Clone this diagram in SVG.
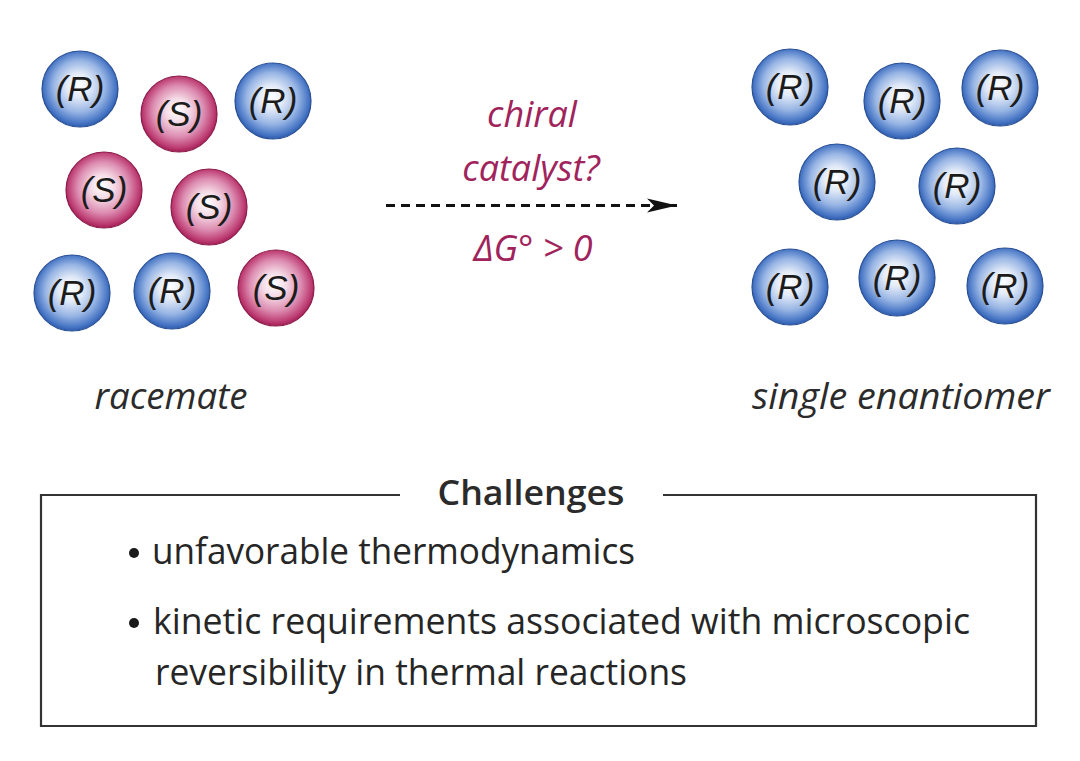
<svg xmlns="http://www.w3.org/2000/svg" width="1080" height="761" viewBox="0 0 1080 761">
<defs>
<radialGradient id="gR" cx="50%" cy="48%" r="52%" fx="47%" fy="44%">
<stop offset="0" stop-color="#ffffff"/>
<stop offset="0.3" stop-color="#e3ebf8"/>
<stop offset="0.65" stop-color="#98b5e4"/>
<stop offset="0.9" stop-color="#4a78c6"/>
<stop offset="1" stop-color="#2d5cae"/>
</radialGradient>
<radialGradient id="gS" cx="50%" cy="48%" r="52%" fx="47%" fy="44%">
<stop offset="0" stop-color="#ffffff"/>
<stop offset="0.3" stop-color="#f5dbe6"/>
<stop offset="0.65" stop-color="#dc8cb0"/>
<stop offset="0.9" stop-color="#bd3d73"/>
<stop offset="1" stop-color="#a31e56"/>
</radialGradient>
<marker id="ah" markerWidth="32" markerHeight="18" refX="30" refY="9" orient="auto" markerUnits="userSpaceOnUse">
<path d="M0,2 L30,9 L0,16 L7,9 Z" fill="#111"/>
</marker>
</defs>
<style>
.r circle{fill:url(#gR);stroke:#2a4f95;stroke-width:1.2}
.s circle{fill:url(#gS);stroke:#8c1c4a;stroke-width:1.2}
.lab{font-family:"Liberation Sans",Arial,sans-serif;font-style:italic;font-size:35px;fill:#1c1c1c;text-anchor:middle}
.cap{font-family:"Open Sans","Noto Sans",sans-serif;font-style:italic;font-size:36px;fill:#2b2b2b;text-anchor:middle}
.mag{font-family:"Open Sans","Noto Sans",sans-serif;font-style:italic;font-size:36px;fill:#a0235c;text-anchor:middle}
.body{font-family:"Open Sans","Noto Sans",sans-serif;font-size:36px;fill:#262626}
</style>
<rect width="1080" height="761" fill="#ffffff"/>

<g id="racemate">
<g id="L1" class="r"><circle cx="80" cy="89" r="38"/><text class="lab" x="80" y="101">(R)</text></g>
<g id="L2" class="s"><circle cx="179" cy="114" r="38"/><text class="lab" x="179" y="126">(S)</text></g>
<g id="L3" class="r"><circle cx="273" cy="101" r="38"/><text class="lab" x="273" y="113">(R)</text></g>
<g id="L4" class="s"><circle cx="104" cy="190" r="38"/><text class="lab" x="104" y="202">(S)</text></g>
<g id="L5" class="s"><circle cx="209" cy="207" r="38"/><text class="lab" x="209" y="219">(S)</text></g>
<g id="L6" class="r"><circle cx="72" cy="293" r="38"/><text class="lab" x="72" y="305">(R)</text></g>
<g id="L7" class="r"><circle cx="172" cy="291" r="38"/><text class="lab" x="172" y="303">(R)</text></g>
<g id="L8" class="s"><circle cx="276" cy="288" r="38"/><text class="lab" x="276" y="300">(S)</text></g>
<text id="racemate-label" class="cap" x="171" y="409" textLength="153" lengthAdjust="spacingAndGlyphs">racemate</text>
</g>

<g id="enantiomer">
<g id="R1" class="r"><circle cx="790" cy="87" r="38"/><text class="lab" x="790" y="99">(R)</text></g>
<g id="R2" class="r"><circle cx="902" cy="101" r="38"/><text class="lab" x="902" y="113">(R)</text></g>
<g id="R3" class="r"><circle cx="1000" cy="88" r="38"/><text class="lab" x="1000" y="100">(R)</text></g>
<g id="R4" class="r"><circle cx="837" cy="182" r="38"/><text class="lab" x="837" y="194">(R)</text></g>
<g id="R5" class="r"><circle cx="957" cy="186" r="38"/><text class="lab" x="957" y="198">(R)</text></g>
<g id="R6" class="r"><circle cx="790" cy="287" r="38"/><text class="lab" x="790" y="299">(R)</text></g>
<g id="R7" class="r"><circle cx="897" cy="278" r="38"/><text class="lab" x="897" y="290">(R)</text></g>
<g id="R8" class="r"><circle cx="1005" cy="286" r="38"/><text class="lab" x="1005" y="298">(R)</text></g>
<text id="enantiomer-label" class="cap" x="901" y="409" textLength="298" lengthAdjust="spacingAndGlyphs">single enantiomer</text>
</g>

<g id="connectors">
<line x1="386" y1="205.5" x2="677" y2="205.5" stroke="#111" stroke-width="3" stroke-dasharray="9 6" marker-end="url(#ah)"/>
</g>
<g id="arrow-labels">
<text class="mag" x="532" y="127">chiral</text>
<text class="mag" x="531" y="181">catalyst?</text>
<text class="mag" x="533" y="261">ΔG° &gt; 0</text>
</g>

<g id="challenges">
<path d="M400,495 H41 V726 H1036 V495 H663" fill="none" stroke="#333" stroke-width="2.2"/>
<text x="531" y="505" text-anchor="middle" font-family="'Open Sans','Noto Sans',sans-serif" font-weight="600" font-size="35" fill="#2b2b2b" textLength="187" lengthAdjust="spacingAndGlyphs">Challenges</text>
<circle cx="134" cy="553" r="5" fill="#1a1a1a"/>
<text class="body" x="152" y="564" textLength="483" lengthAdjust="spacingAndGlyphs">unfavorable thermodynamics</text>
<circle cx="134" cy="623" r="5" fill="#1a1a1a"/>
<text class="body" x="153" y="634" textLength="817" lengthAdjust="spacingAndGlyphs">kinetic requirements associated with microscopic</text>
<text class="body" x="155" y="685" textLength="532" lengthAdjust="spacingAndGlyphs">reversibility in thermal reactions</text>
</g>
</svg>
